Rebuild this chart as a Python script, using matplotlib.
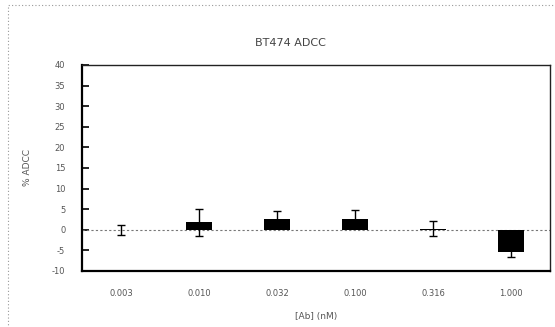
import numpy as np
import matplotlib
matplotlib.use('Agg')
import matplotlib.pyplot as plt
from matplotlib.patches import Rectangle

# data
conc_labels = ['0.003', '0.010', '0.032', '0.100', '0.316', '1.000']
adcc = [0.0, 1.8, 2.6, 2.7, 0.3, -5.4]
adcc_err = [1.2, 3.3, 1.9, 2.1, 1.9, 1.1]
yticks = [-10, -5, 0, 5, 10, 15, 20, 25, 30, 35, 40]

txt = '#555555'

fig = plt.figure(figsize=(5.55, 3.27), dpi=100)
ax = fig.add_axes([82/555, 1-271/327, (550-82)/555, (271-65)/327])

x = np.arange(len(conc_labels))
ax.bar(x, adcc, width=0.33, color='black', linewidth=0, zorder=3)
ax.errorbar(x, adcc, yerr=adcc_err, fmt='none', ecolor='black', elinewidth=1.0,
            capsize=3, capthick=1.0, zorder=4)
ax.axhline(0, color='#777777', lw=0.8, ls=(0, (2, 2)), zorder=2)

ax.set_xlim(-0.5, len(conc_labels) - 0.5)
ax.set_ylim(-10, 40)
ax.set_yticks(yticks)
ax.set_yticklabels([str(v) for v in yticks])
ax.set_xticks(x)
ax.set_xticklabels(conc_labels)
ax.tick_params(axis='y', direction='in', length=5, width=1.2, labelsize=6, colors='black',
               labelcolor=txt, pad=12)
ax.tick_params(axis='x', length=0, labelsize=6, labelcolor=txt, pad=13)

for s in ['left', 'bottom']:
    ax.spines[s].set_linewidth(1.6)
for s in ['top', 'right']:
    ax.spines[s].set_linewidth(1.0)
    ax.spines[s].set_color('#222222')

ax.set_ylabel('% ADCC', fontsize=6.5, color=txt, labelpad=14)
ax.set_xlabel('[Ab] (nM)', fontsize=6.5, color=txt, labelpad=10)
fig.text(290/555, 1-43/327, 'BT474 ADCC', ha='center', va='center', fontsize=8, color='#444444')

# dotted chart-area border
fig.patches.append(Rectangle((8/555, -0.05), 1.1, 0.05 + 1-5/327, transform=fig.transFigure,
                             fill=False, ec='#999999', lw=0.8, ls=(0, (1, 2))))

fig.savefig('out.png', dpi=100)
